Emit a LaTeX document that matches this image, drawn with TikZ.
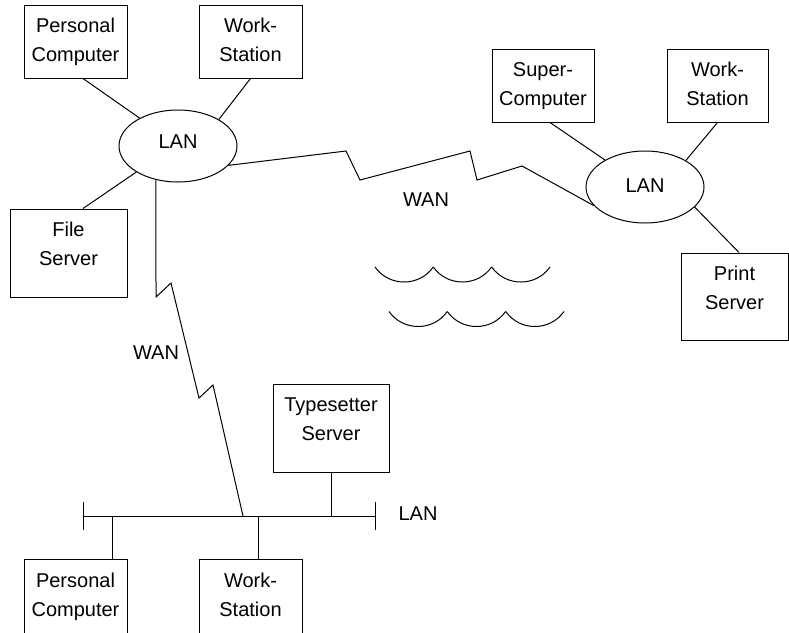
\documentclass[tikz,border=0pt]{standalone}
\usepackage{fontspec}
\setmainfont{Liberation Sans}
\usetikzlibrary{shapes.geometric,calc}
\begin{document}
\begin{tikzpicture}[x=1pt,y=-1pt,line width=1pt,
  box/.style 2 args={draw, rectangle, inner sep=0pt, minimum width=#1pt, minimum height=#2pt},
  lbl/.style={anchor=north, yshift=-13.5pt, align=center, inner sep=0pt, font=\fontsize{20}{29}\selectfont},
  lan/.style={draw, ellipse, inner sep=0pt, minimum width=118pt, minimum height=72pt, font=\fontsize{20}{29}\selectfont},
  txt/.style={inner sep=0pt, font=\fontsize{20}{29}\selectfont}]
\useasboundingbox (0,0) rectangle (789,632);
\fill[white] (0,0) rectangle (789,632);
\clip (0,0) rectangle (789,632);

% boxes
\node[box={103}{73}, label={[lbl]north:{Personal\\Computer}}] (pc1) at (75.5,41.5) {};
\node[box={103}{73}, label={[lbl]north:{Work-\\Station}}] (ws1) at (250.5,41.5) {};
\node[box={117}{88}, label={[lbl]north:{File\\Server}}] (fs) at (68.5,253) {};
\node[box={102}{73}, label={[lbl]north:{Super-\\Computer}}] (sc) at (543,85.5) {};
\node[box={101}{73}, label={[lbl]north:{Work-\\Station}}] (ws2) at (717.5,85.5) {};
\node[box={107}{87}, label={[lbl]north:{Print\\Server}}] (ps) at (734.5,296.5) {};
\node[box={116}{88}, label={[lbl]north:{Typesetter\\Server}}] (ts) at (331,428) {};
\node[box={103}{100}, label={[lbl]north:{Personal\\Computer}}] (pc3) at (75.5,609) {};
\node[box={103}{100}, label={[lbl]north:{Work-\\Station}}] (ws3) at (250.5,609) {};

% LAN ellipses
\node[lan, text depth=9pt] (lanL) at (178,146) {LAN};
\node[lan, text depth=3pt] (lanR) at (645,187) {LAN};

% labels
\node[txt] (wan1) at (426,200) {WAN};
\node[txt] (wan2) at (156,353) {WAN};
\node[txt] (lan3) at (418,514) {LAN};

% star connections
\draw ([xshift=7.5pt]pc1.south) -- (lanL.144);
\draw (ws1.south) -- (lanL.33);
\draw ([xshift=14.5pt]fs.north) -- (lanL.212);
\draw ([xshift=7pt]sc.south) -- (lanR.146);
\draw (ws2.south) -- (lanR.33);
\draw ([xshift=4.5pt]ps.north) -- (lanR.338);

% bus LAN
\coordinate (busL) at (83,516);
\coordinate (busR) at (375,516);
\coordinate (wanB) at (243,516);
\draw (busL) -- (busR);
\draw ([yshift=14pt]busL) -- ([yshift=-14pt]busL);
\draw ([yshift=14pt]busR) -- ([yshift=-14pt]busR);
\draw ([xshift=36.5pt]pc3.north) -- ([xshift=36.5pt]pc3.north |- busL);
\draw ([xshift=7.5pt]ws3.north) -- ([xshift=7.5pt]ws3.north |- busL);
\draw (ts.south) -- (ts.south |- busL);

% WAN links
\draw (lanL.339) -- (346,151) -- (360,180) -- (470,151) -- (477,180) -- (522,166) -- (lanR.200);
\draw (lanL.237) -- (156,297) -- (171,283) -- (199,398) -- (213,385) -- (wanB);

% waves
\foreach \x in {375,433.3,491.7}
  \draw (\x,267) .. controls +(14.1,20) and +(-14.1,20) .. +(58.3,0);
\foreach \x in {389,447.3,505.7}
  \draw (\x,311.5) .. controls +(14.1,20) and +(-14.1,20) .. +(58.3,0);
\end{tikzpicture}
\end{document}
